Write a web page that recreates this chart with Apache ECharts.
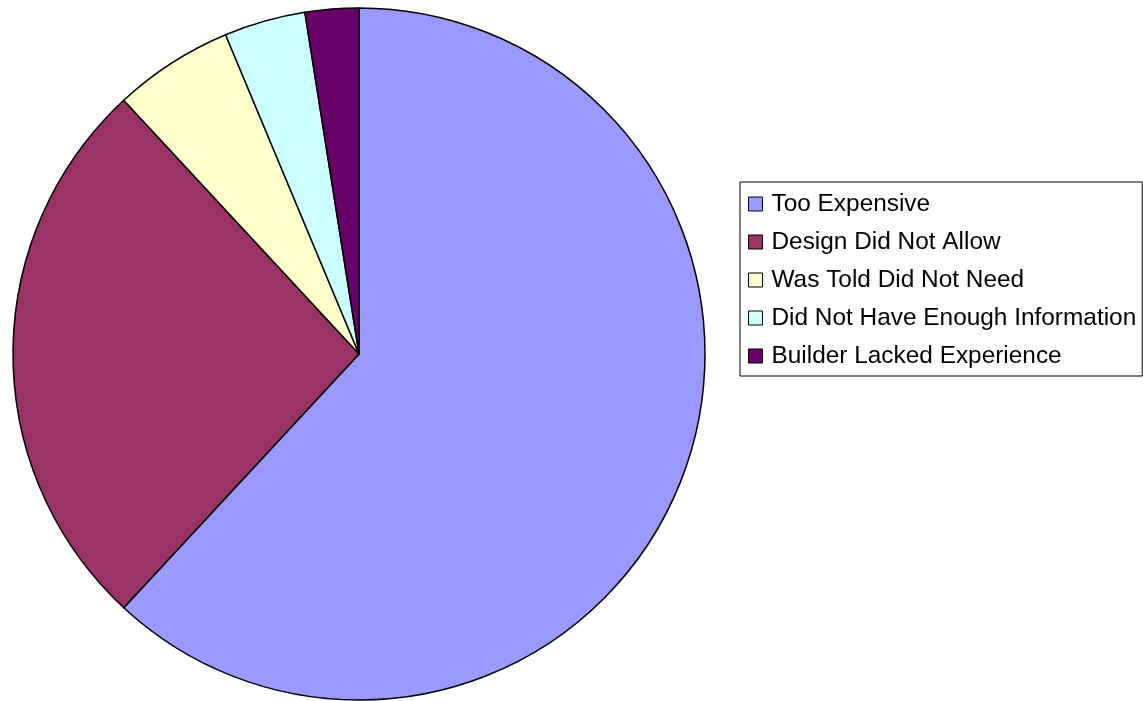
<!DOCTYPE html>
<html>
<head>
<meta charset="utf-8">
<script src="https://cdn.jsdelivr.net/npm/echarts@6/dist/echarts.min.js"></script>
<style>
html,body{margin:0;padding:0;background:#fff;}
#chart{width:1143px;height:701px;}
</style>
</head>
<body>
<div id="chart"></div>
<script>
const categories = ["Too Expensive", "Design Did Not Allow", "Was Told Did Not Need", "Did Not Have Enough Information", "Builder Lacked Experience"];
const values = [61.9, 26.2, 5.6, 3.8, 2.5];
const colors = ["#9999FF", "#993366", "#FFFFCC", "#CCFFFF", "#660066"];

const chart = echarts.init(document.getElementById('chart'), null, {renderer: 'canvas'});
chart.setOption({
  backgroundColor: '#ffffff',
  animation: false,
  color: colors,
  legend: {
    orient: 'vertical',
    left: 740,
    top: 182,
    padding: [10, 6, 8, 8],
    itemWidth: 14,
    itemHeight: 14,
    itemGap: 14,
    icon: 'rect',
    borderColor: '#000',
    borderWidth: 1,
    backgroundColor: '#fff',
    itemStyle: {borderColor: '#000', borderWidth: 1},
    textStyle: {
      fontFamily: 'Liberation Sans, Arial, sans-serif',
      fontSize: 24.4,
      lineHeight: 24,
      color: '#000',
      padding: [0, 0, 0, 4]
    },
    data: categories
  },
  series: [{
    type: 'pie',
    center: [359, 354],
    radius: 346,
    startAngle: 90,
    clockwise: true,
    label: {show: false},
    labelLine: {show: false},
    emphasis: {disabled: true},
    itemStyle: {borderColor: '#000', borderWidth: 1.5},
    data: categories.map((c, i) => ({name: c, value: values[i]}))
  }]
});
</script>
</body>
</html>
